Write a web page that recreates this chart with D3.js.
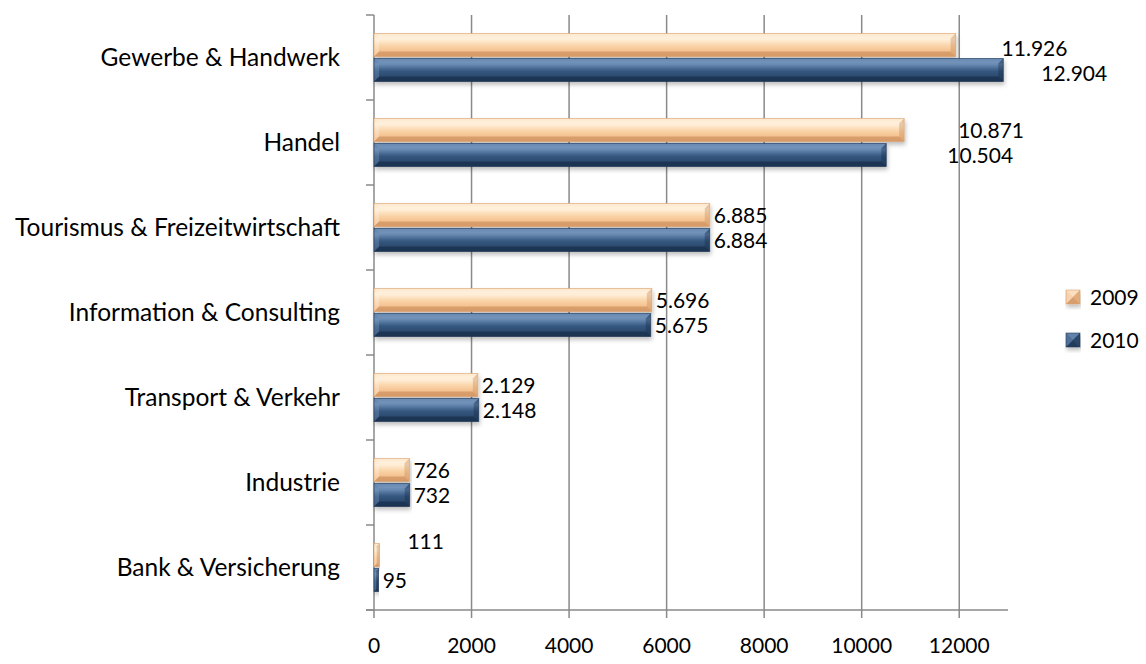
<!DOCTYPE html>
<html>
<head>
<meta charset="utf-8">
<script src="https://cdn.jsdelivr.net/npm/d3@7"></script>
<style>
  body { margin: 0; background: #fff; }
  svg { display: block; font-family: Lato, "Open Sans", sans-serif; }
  .cat { font-size: 24.5px; fill: #000; }
  .tick-x { font-size: 21px; fill: #000; }
  .val { font-size: 21px; fill: #000; }
</style>
</head>
<body>
<svg id="chart" width="1146" height="664"></svg>
<script>
// Gründungen nach Sparte, 2009 vs 2010
const categories = [
  "Gewerbe & Handwerk", "Handel", "Tourismus & Freizeitwirtschaft",
  "Information & Consulting", "Transport & Verkehr", "Industrie", "Bank & Versicherung"
];
const values2009 = [11926, 10871, 6885, 5696, 2129, 726, 111];
const values2010 = [12904, 10504, 6884, 5675, 2148, 732, 95];
const xTicks = [0, 2000, 4000, 6000, 8000, 10000, 12000];
const seriesNames = ["2009", "2010"];

// label nudges where the original placement jumps away from the bar end
const labelDx2009 = [42, 50, 0, 0, 0, 0, 24];
const labelDx2010 = [34, 57, 0, 0, 0, 0, 0];
const labelDy2009 = [3, 0, 0, 0, 0, 0, -14];
const labelDy2010 = [3, 0, 0, 0, 0, 0, 0];

const svg = d3.select("#chart");
const M = { left: 374, right: 1008, top: 15, bottom: 610 };

const x = d3.scaleLinear().domain([0, 13000]).range([M.left, M.right]);
const y = d3.scaleBand().domain(categories).range([M.top, M.bottom]);
const fmt = v => d3.format(",")(v).replace(/,/g, ".");

const defs = svg.append("defs");
function grad(id, stops) {
  const g = defs.append("linearGradient").attr("id", id)
    .attr("x1", 0).attr("y1", 0).attr("x2", 0).attr("y2", 1);
  stops.forEach(([o, c]) => g.append("stop").attr("offset", o).attr("stop-color", c));
}
grad("g2009", [[0, "#fbd6ab"], [0.25, "#fff0da"], [0.55, "#fad2a6"], [1, "#efb07a"]]);
grad("g2010", [[0, "#4a6d98"], [0.25, "#6a8cb5"], [0.55, "#35577f"], [1, "#243f62"]]);
const f = defs.append("filter").attr("id", "shadow")
  .attr("x", "-5%").attr("y", "-20%").attr("width", "110%").attr("height", "160%");
f.append("feDropShadow").attr("dx", 1).attr("dy", 3).attr("stdDeviation", 2)
  .attr("flood-color", "#000").attr("flood-opacity", 0.25);

const series = [
  { name: seriesNames[0], values: values2009, fill: "url(#g2009)", light: "#fff4e4", dark: "#c98e5c", edge: "#d9a16e", swatch: "#f4c08f", dx: labelDx2009, dy: labelDy2009 },
  { name: seriesNames[1], values: values2010, fill: "url(#g2010)", light: "#7d9cc2", dark: "#182d48", edge: "#1f3655", swatch: "#3a5a82", dx: labelDx2010, dy: labelDy2010 }
];

const grey = "#8a8a8a";
// gridlines
svg.append("g").selectAll("line").data(xTicks.slice(1)).join("line")
  .attr("x1", d => x(d)).attr("x2", d => x(d))
  .attr("y1", M.top).attr("y2", M.bottom)
  .attr("stroke", grey).attr("stroke-width", 1.5);

// axes lines
svg.append("line").attr("x1", M.left).attr("x2", M.left).attr("y1", M.top).attr("y2", M.bottom + 8)
  .attr("stroke", grey).attr("stroke-width", 1.5);
svg.append("line").attr("x1", M.left - 8).attr("x2", M.right).attr("y1", M.bottom).attr("y2", M.bottom)
  .attr("stroke", grey).attr("stroke-width", 1.5);
// category ticks
const bounds = categories.map(c => y(c)).concat([M.bottom]);
svg.append("g").selectAll("line").data(bounds).join("line")
  .attr("x1", M.left - 8).attr("x2", M.left).attr("y1", d => d).attr("y2", d => d)
  .attr("stroke", grey).attr("stroke-width", 1.5);
// x ticks
svg.append("g").selectAll("line").data(xTicks.slice(1)).join("line")
  .attr("x1", d => x(d)).attr("x2", d => x(d)).attr("y1", M.bottom).attr("y2", M.bottom + 8)
  .attr("stroke", grey).attr("stroke-width", 1.5);
svg.append("g").selectAll("text").data(xTicks).join("text")
  .attr("class", "tick-x").attr("x", d => x(d)).attr("y", 653)
  .attr("text-anchor", "middle").text(d => d);

// category labels
svg.append("g").selectAll("text").data(categories).join("text")
  .attr("class", "cat").attr("x", 340).attr("y", d => y(d) + y.bandwidth() / 2 + 8)
  .attr("text-anchor", "end").text(d => d);

// bars with a bevelled look: top light, left softer light, right softer dark, bottom dark
const barH = 23, gap = 2;
function bevelBar(g, x0, x1, y0, h, s, bev) {
  const y1 = y0 + h;
  const b = Math.min(bev, (x1 - x0) / 2, h / 2);
  const grp = g.append("g").attr("filter", "url(#shadow)");
  grp.append("rect").attr("x", x0).attr("y", y0).attr("width", x1 - x0).attr("height", h)
    .attr("fill", s.fill);
  const poly = (pts, fill, op) => grp.append("polygon")
    .attr("points", pts.map(p => p.join(",")).join(" ")).attr("fill", fill).attr("opacity", op);
  poly([[x0, y0], [x1, y0], [x1 - b, y0 + b], [x0 + b, y0 + b]], s.light, 0.6);
  poly([[x0, y1], [x1, y1], [x1 - b, y1 - b], [x0 + b, y1 - b]], s.dark, 0.65);
  poly([[x0, y0], [x0 + b, y0 + b], [x0 + b, y1 - b], [x0, y1]], s.light, 0.35);
  poly([[x1, y0], [x1 - b, y0 + b], [x1 - b, y1 - b], [x1, y1]], s.dark, 0.4);
  grp.append("rect").attr("x", x0).attr("y", y0).attr("width", x1 - x0).attr("height", h)
    .attr("fill", "none").attr("stroke", s.edge).attr("stroke-width", 0.8).attr("opacity", 0.7);
}

const barLayer = svg.append("g");
const labelLayer = svg.append("g");
categories.forEach((c, i) => {
  const mid = y(c) + y.bandwidth() / 2;
  series.forEach((s, k) => {
    const y0 = k === 0 ? mid - barH - gap / 2 : mid + gap / 2;
    bevelBar(barLayer, x(0), x(s.values[i]), y0, barH, s, 5);
    labelLayer.append("text").attr("class", "val")
      .attr("x", x(s.values[i]) + 4 + s.dx[i])
      .attr("y", y0 + barH / 2 + 8 + s.dy[i])
      .text(fmt(s.values[i]));
  });
});

// legend
const leg = svg.append("g").attr("transform", "translate(1066,290)");
series.forEach((s, k) => {
  const g = leg.append("g").attr("transform", `translate(0,${k * 43})`);
  bevelBar(g, 0, 14, 0, 14, Object.assign({}, s, { fill: s.swatch }), 7);
  g.append("text").attr("class", "val").attr("x", 24).attr("y", 15).text(s.name);
});
</script>
</body>
</html>
